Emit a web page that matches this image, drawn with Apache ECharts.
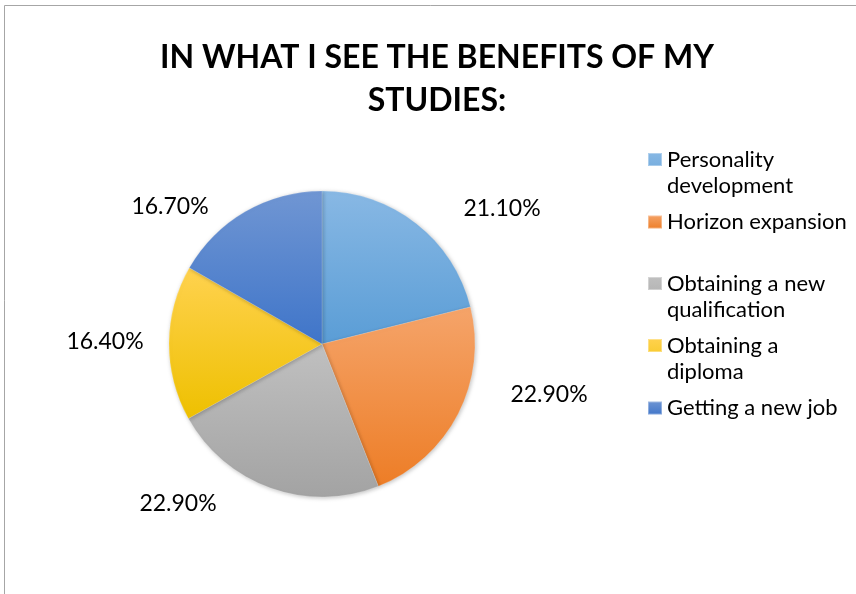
<!DOCTYPE html>
<html>
<head>
<meta charset="utf-8">
<script src="https://cdn.jsdelivr.net/npm/echarts@6/dist/echarts.min.js"></script>
<style>html,body{margin:0;padding:0;background:#fff}#c{width:856px;height:594px}</style>
</head>
<body>
<div id="c"></div>
<script>
const titleText = 'IN WHAT I SEE THE BENEFITS OF MY\nSTUDIES:';
const categories = ['Personality\ndevelopment', 'Horizon expansion', 'Obtaining a new\nqualification', 'Obtaining a\ndiploma', 'Getting a new job'];
const values = [21.1, 22.9, 22.9, 16.4, 16.7];
const topColors = ['#88b8e4', '#f5a46a', '#c0c0c0', '#ffd24f', '#7096d3'];
const bottomColors = ['#5a9dd6', '#ed7d26', '#a3a3a3', '#eec000', '#3f75c9'];

const FONT = 'Lato, "Open Sans", sans-serif';
const chart = echarts.init(document.getElementById('c'), null, {renderer: 'canvas'});

function grad(i) {
  return new echarts.graphic.LinearGradient(0, 0, 0, 1, [
    {offset: 0, color: topColors[i]}, {offset: 1, color: bottomColors[i]}
  ]);
}

const data = categories.map((n, i) => ({name: n, value: values[i], itemStyle: {color: grad(i)}}));

// label anchor points (relative to chart) for each slice
const labelPos = [[502, 209], [549, 395], [178, 504], [105, 342], [170, 207]];
const legendTops = [147, 209, 271, 333, 395];
const tallIcon = 'path://M0,0L14,0L14,13L0,13Z M0,40L0.01,40Z';

const legends = categories.map((n, i) => {
  const two = n.indexOf('\n') >= 0;
  return {
    data: [n], left: 647, top: legendTops[i], orient: 'vertical', padding: 0,
    itemWidth: 14, itemHeight: two ? 40 : 13,
    icon: two ? tallIcon : 'rect',
    selectedMode: false,
    textStyle: {fontFamily: FONT, fontSize: 22, color: '#000', lineHeight: 26}
  };
});

chart.setOption({
  animation: false,
  backgroundColor: '#fff',
  title: {
    text: titleText, left: 437, top: 36, textAlign: 'center', padding: 0,
    textStyle: {fontFamily: FONT, fontWeight: 'bold', fontSize: 32, lineHeight: 43, color: '#000'}
  },
  legend: legends,
  graphic: [{
    type: 'rect', shape: {x: 4.5, y: 5.5, width: 900, height: 700},
    style: {fill: 'none', stroke: '#a6a6a6', lineWidth: 1}, silent: true
  }],
  series: [{
    type: 'pie', center: [322, 344], radius: 153, startAngle: 90, clockwise: true,
    data: data,
    itemStyle: {borderColor: 'rgba(255,255,255,0.35)', borderWidth: 0.5, shadowBlur: 4, shadowColor: 'rgba(0,0,0,0.25)', shadowOffsetX: 1, shadowOffsetY: 1},
    label: {show: true, position: 'outside', formatter: p => p.value.toFixed(2) + '%',
      fontFamily: FONT, fontSize: 23, color: '#000'},
    labelLine: {show: false},
    labelLayout: function (params) {
      const p = labelPos[params.dataIndex];
      return {x: p[0], y: p[1], align: 'center', verticalAlign: 'middle'};
    },
    emphasis: {disabled: true}
  }]
});
</script>
</body>
</html>
